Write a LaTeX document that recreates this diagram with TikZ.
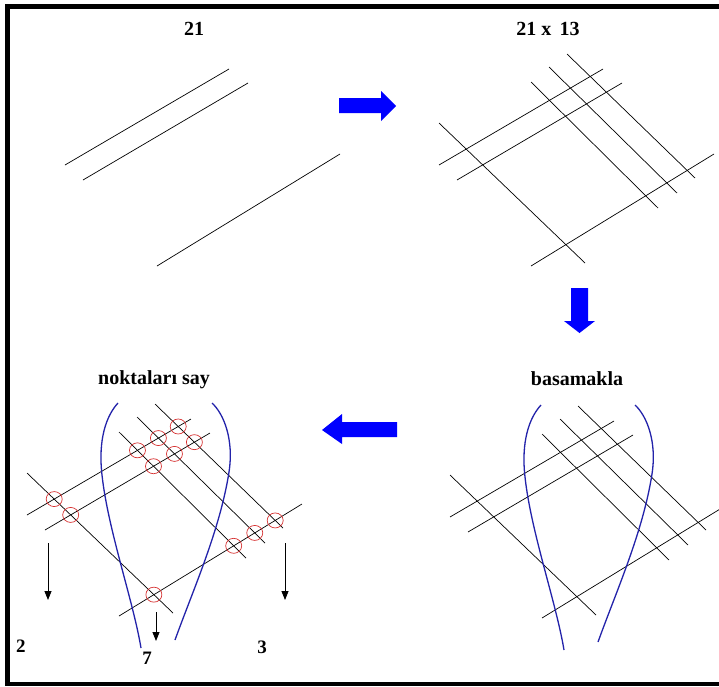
\documentclass[tikz,border=0pt]{standalone}
\usepackage{fontspec}
\setmainfont{Liberation Serif}
\usetikzlibrary{arrows.meta}
\definecolor{fillblue}{RGB}{0,0,255}
\definecolor{curveblue}{RGB}{35,35,170}
\definecolor{circred}{RGB}{215,50,50}
\tikzset{
  gl/.style={black, line width=0.7pt},
  bc/.style={curveblue, line width=1.3pt},
  rc/.style={circred, line width=0.7pt},
  barrow/.style={fillblue, draw=none},
  dnarrow/.style={black, line width=0.8pt, -{Triangle[length=9pt,width=7pt]}},
  lbl/.style={font=\bfseries\fontsize{20}{22}\selectfont, inner sep=0pt},
  numlbl/.style={font=\bfseries\fontsize{19}{21}\selectfont, inner sep=0pt}
}
% grid of ascending (a) and descending (d) lines, in the frame of the top-right panel
\newcommand{\mkascend}[1]{%
  \coordinate (#1a1s) at (439,165); \coordinate (#1a1e) at (603,69);
  \coordinate (#1a2s) at (457,180); \coordinate (#1a2e) at (622,83);
  \coordinate (#1a3s) at (531,266); \coordinate (#1a3e) at (714,154);
  \draw[gl] (#1a1s) -- (#1a1e);
  \draw[gl] (#1a2s) -- (#1a2e);
  \draw[gl] (#1a3s) -- (#1a3e);}
\newcommand{\mkdescend}[1]{%
  \coordinate (#1d1s) at (439,123); \coordinate (#1d1e) at (585,263);
  \coordinate (#1d2s) at (531,82);  \coordinate (#1d2e) at (658,208);
  \coordinate (#1d3s) at (549,67);  \coordinate (#1d3e) at (677,193);
  \coordinate (#1d4s) at (567,54);  \coordinate (#1d4e) at (695,178);
  \draw[gl] (#1d1s) -- (#1d1e);
  \draw[gl] (#1d2s) -- (#1d2e);
  \draw[gl] (#1d3s) -- (#1d3e);
  \draw[gl] (#1d4s) -- (#1d4e);}
\newcommand{\mkcurves}[1]{%
  \coordinate (#1l0) at (530,53);
  \coordinate (#1l5) at (553,298);
  \coordinate (#1r0) at (624,53);
  \coordinate (#1r5) at (587,290);
  \draw[bc] (#1l0) .. controls (518,66) and (510,90) .. (514,125)
            .. controls (520,180) and (545,250) .. (#1l5);
  \draw[bc] (#1r0) .. controls (636,64) and (646,90) .. (641,122)
            .. controls (632,180) and (605,240) .. (#1r5);}
\begin{document}
\begin{tikzpicture}[x=1pt,y=-1pt]
\useasboundingbox (0,0) rectangle (719,686);
\fill[white] (0,0) rectangle (719,686);
% frame (open at the right)
\fill[black] (5,4) rectangle (719,9);
\fill[black] (5,682) rectangle (719,686);
\fill[black] (5,4) rectangle (10,686);

% labels
\node[lbl] (t21) at (194,29) {21};
\node[lbl] (t2113) at (548,29) {21 x\, 13};
\node[lbl] (tsay) at (154,380) {noktaları say};
\node[lbl] (tbas) at (577,379) {basamakla};
\node[numlbl] (n2) at (21,646) {2};
\node[numlbl] (n7) at (147,658) {7};
\node[numlbl] (n3) at (262,647) {3};

% top-left panel: three lines
\begin{scope}[shift={(-374,0)}]
  \mkascend{tl}
\end{scope}

% top-right panel
\begin{scope}
  \mkascend{tr}
  \mkdescend{tr}
\end{scope}

% bottom-right panel
\begin{scope}[shift={(11,352)}]
  \mkascend{br}
  \mkdescend{br}
  \mkcurves{br}
\end{scope}

% bottom-left panel
\begin{scope}[shift={(-412,350)}]
  \mkascend{bl}
  \mkdescend{bl}
  \mkcurves{bl}
\end{scope}
% red circles at the counted crossings
\foreach \a/\d in {1/1,2/1,3/1,1/2,1/3,1/4,2/2,2/3,2/4,3/2,3/3,3/4}{
  \coordinate (x\a\d) at (intersection of bla\a s--bla\a e and bld\d s--bld\d e);
  \draw[rc] (x\a\d) ellipse [x radius=8, y radius=7.5];
}

% black down arrows
\coordinate (dA0) at (48,543); \coordinate (dA1) at (48,600);
\coordinate (dB0) at (285,543); \coordinate (dB1) at (285,600);
\coordinate (dC0) at (156,612); \coordinate (dC1) at (156,641);
\draw[dnarrow] (dA0) -- (dA1);
\draw[dnarrow] (dB0) -- (dB1);
\draw[dnarrow] (dC0) -- (dC1);

% blue block arrows
\fill[barrow] (339,98) -- (381,98) -- (381,91) -- (396,106) -- (381,121) -- (381,113) -- (339,113) -- cycle;
\fill[barrow] (571,288) -- (588,288) -- (588,321) -- (595,321) -- (579.5,333) -- (564,321) -- (571,321) -- cycle;
\fill[barrow] (397,422) -- (342,422) -- (342,414) -- (322,430) -- (342,444) -- (342,437) -- (397,437) -- cycle;
\end{tikzpicture}
\end{document}
